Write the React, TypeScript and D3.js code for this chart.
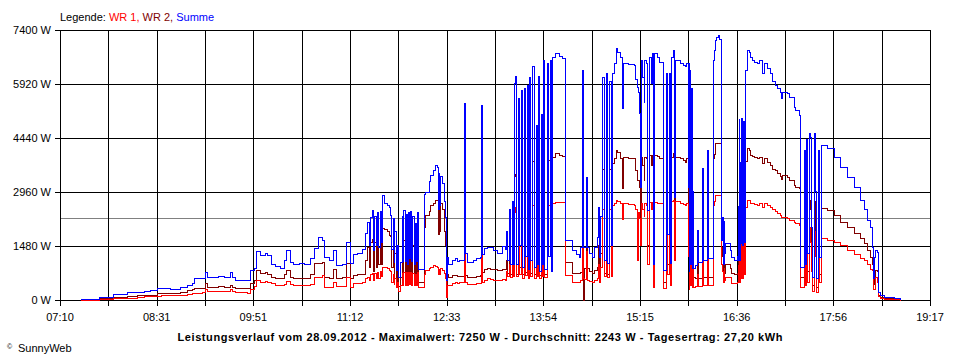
import React from "react";
import * as d3 from "d3";

// time of day in minutes (07:10 = 430)
const times = [
  447, 452, 463, 474, 486, 494, 500, 505, 511, 514,
  522, 530, 536, 540, 542, 549, 551, 553, 562, 567,
  572, 574, 576, 582, 586, 589, 592, 594, 597, 601,
  603, 606, 610, 614, 617, 619, 622, 625, 630, 634,
  639, 642, 646, 649, 651, 655, 658, 661, 666, 669,
  672, 675, 678, 682, 685, 686.5, 688, 689, 690.5, 691.5,
  692.5, 694, 695, 696, 697, 698, 699, 700.5, 703, 705,
  706, 707, 708, 708.7, 709.5, 710.5, 711.5, 712.5, 714, 715.6,
  716.3, 717, 718, 718.8, 719.8, 720.5, 721.5, 722.5, 723.5, 724.5,
  725.5, 726.5, 727.5, 728.3, 729.5, 733.7, 734.3, 735.2, 738, 739.3,
  742, 743.5, 745, 745.8, 746.3, 747, 747.7, 749, 750.5, 751.3,
  752, 752.7, 753.3, 754.6, 757.4, 760.2, 761.6, 763, 766, 767.5,
  768, 768.8, 770, 775.5, 778, 781, 781.9, 783, 784, 787,
  789.5, 792, 795.1, 797.9, 799.3, 802,
  802.8, 803.7, 805.4, 806.2, 807.9, 808.7, 809.5, 810.4, 811.2, 812.9,
  813.7, 815.4, 816.2, 817.9, 818.7, 820.4, 821.2, 822.1, 823, 824.6,
  825.8, 827.9, 828.7, 829.6, 830.4, 832.1, 832.9, 833.8, 834.6, 837.1,
  837.9, 839.2, 840, 841.3,
  843.8, 846.6, 849.4, 852, 852.2, 856.4, 857.8, 861, 863.4, 864.7,
  866.1, 866.8, 867.5, 869.5, 870.3, 871.7, 874.5, 875.9, 878.7, 879.5,
  880.3, 881.5,
  882.9, 884.2, 886, 887.5, 889, 890.2, 891.5, 892.6, 894.9, 895.4, 898.2,
  899.6, 900.4, 905, 909.3, 910.2, 912, 912.6, 913.7, 914.9, 915.4,
  916.5, 917.6, 918.2, 920, 920.9, 921.8, 923.8, 924.6, 925.5, 926.3,
  929, 930.2, 933.5, 936.6, 937.5, 938.5, 939.4, 940.5, 942.2, 943.3,
  944.3, 948, 950.5, 952.5, 953.3, 954.4, 955, 955.5, 956, 956.6,
  957.2, 957.8, 958.5, 959.2, 960.8, 962.2, 962.8, 966.4, 967, 970.6,
  971.2, 975.6, 976.2, 977.6, 978.4, 979.5, 980.5, 982.3, 983.1, 983.8,
  984.5, 985.2, 985.9, 990.1, 990.8, 992.9, 995.7, 996.2, 996.7, 997.1,
  997.5, 997.9, 998.5, 999.2, 999.9, 1000.6, 1001.3, 1002.6, 1004, 1005.4,
  1006.8, 1008, 1010, 1012.4, 1014, 1016.6, 1018, 1020.8, 1023.5, 1025,
  1027.7, 1029.1, 1031.9, 1032.5, 1033.3, 1037.5, 1038.9, 1043, 1044.4, 1047.2,
  1048.6, 1052, 1052.7, 1053.5, 1054.2, 1055.6, 1056.5, 1057.2, 1058.4, 1059.8,
  1060.5, 1061.2, 1062, 1063.1, 1064.2, 1065.9, 1070.9, 1076.5, 1082, 1087.7,
  1093.2, 1098.8, 1101.6, 1104.4, 1107.2, 1108.5, 1109.4, 1110, 1111.3, 1112.7,
  1113.5, 1115.5, 1118.3, 1122, 1126.7, 1132.2,
];

// WR 1 (W)
const wr1 = [
  5, 10, 20, 45, 65, 90, 100, 105, 110, 130,
  130, 140, 165, 180, 200, 210, 290, 255, 255, 250,
  290, 250, 220, 210, 200, 290, 385, 550, 500, 530,
  500, 455, 420, 410, 450, 520, 440, 410, 410, 410,
  450, 640, 640, 685, 365, 350, 500, 385, 385, 640,
  365, 456, 456, 480, 590, 640, 560, 700, 730, 560,
  750, 600, 780, 600, 800, 650, 910, 900, 880, 820,
  800, 500, 700, 430, 600, 350, 500, 260, 420, 750,
  420, 780, 420, 760, 400, 770, 440, 780, 420, 750,
  400, 700, 420, 780, 350, 360, 700, 820, 870, 910,
  960, 930, 910, 700, 880, 700, 870, 830, 750, 740,
  600, 90, 420, 410, 456, 480, 470, 500, 500, 520,
  2000, 500, 440, 440, 456, 470, 1800, 500, 560, 590,
  580, 560, 550, 560, 580, 560,
  800, 650, 1000, 620, 1100, 650, 2400, 2550, 650, 2250,
  700, 2350, 600, 2350, 680, 2400, 600, 2450, 650, 2600,
  600, 1950, 650, 2500, 600, 2100, 650, 2650, 620, 2620,
  2600, 2650, 2620, 2660,
  2690, 2690, 2680, 2690, 685, 685, 500, 500, 500, 550,
  2500, 600, 580, 1350, 560, 510, 500, 550, 600, 1000,
  500, 900,
  2500, 650, 2550, 620, 2500, 650, 2600, 2650, 2740, 2700, 2650,
  2230, 2650, 2640, 2600, 2500, 1100, 2400, 2250, 1500, 2650,
  2500, 2300, 2650, 2600, 1000, 2690, 2500, 2690, 365, 2690,
  2670, 2650, 320, 2600, 700, 2650, 420, 2700, 2740, 1100,
  2700, 2650, 2630, 2600, 2650, 1200, 2600, 300, 2500, 400,
  2300, 365, 1200, 365, 380, 700, 380, 1400, 400, 1600,
  420, 2600, 2700, 2870, 2880, 2870, 2870, 1000, 800, 500,
  900, 550, 640, 640, 455, 455, 500, 1000, 500, 2000,
  500, 1500, 600, 2000, 600, 1700, 700, 2550, 2740, 2740,
  2650, 2650, 2620, 2600, 2650, 2560, 2650, 2600, 2560, 2500,
  2450, 2375, 2330, 2280, 2280, 2240, 2200, 2150, 2100, 2060,
  365, 1500, 400, 1800, 500, 2000, 1600, 800, 250, 1900,
  1800, 1200, 230, 1700, 480, 1690, 1640, 1600, 1500, 1370,
  1250, 1150, 1100, 1000, 850, 820, 300, 300, 640, 500,
  100, 60, 40, 30, 20, 10,
];

// WR 2 (W)
const wr2 = [
  10, 25, 45, 80, 110, 130, 140, 150, 180, 200,
  200, 210, 275, 290, 320, 330, 455, 365, 380, 370,
  420, 370, 330, 320, 330, 455, 550, 820, 730, 760,
  720, 640, 600, 595, 700, 820, 640, 600, 600, 610,
  700, 1010, 1010, 1050, 640, 610, 840, 610, 620, 1005,
  590, 685, 700, 720, 1100, 1460, 900, 1600, 1680, 800,
  1600, 900, 1700, 1000, 1800, 1000, 1960, 1950, 1900, 1780,
  1750, 900, 1600, 640, 1300, 470, 1000, 380, 620, 1500,
  650, 1650, 650, 1550, 600, 1600, 700, 1650, 650, 1500,
  600, 1350, 640, 1600, 500, 490, 2000, 2330, 2450, 2600,
  2650, 2740, 2740, 1800, 2700, 1900, 2650, 2500, 2400, 1900,
  1500, 250, 700, 640, 680, 680, 660, 650, 660, 700,
  3300, 680, 640, 640, 660, 680, 3100, 760, 850, 870,
  860, 840, 820, 830, 860, 850,
  1100, 750, 1500, 700, 1600, 750, 3400, 3450, 720, 3300,
  900, 3350, 700, 3450, 760, 3500, 700, 3600, 750, 3800,
  700, 2850, 740, 3650, 680, 3000, 750, 3900, 700, 3880,
  3850, 3900, 3880, 3920,
  4020, 3980, 3950, 3975, 1050, 1050, 750, 730, 730, 780,
  3700, 0, 870, 2000, 870, 800, 750, 820, 900, 1500,
  750, 1300,
  3600, 750, 3700, 700, 3600, 900, 3750, 3900, 4110, 4050, 3880,
  3060, 3930, 3900, 3880, 3560, 3300, 3300, 3110, 1900, 3930,
  3700, 3300, 3930, 3900, 1500, 3975, 3700, 3975, 600, 3975,
  3950, 3880, 500, 3700, 1000, 3750, 600, 3930, 4020, 1500,
  3930, 3880, 3840, 3790, 3880, 1800, 3880, 500, 3700, 600,
  3400, 640, 1800, 640, 600, 1100, 600, 2100, 640, 2400,
  640, 3900, 4000, 4290, 4300, 4290, 4290, 1200, 1450, 700,
  1400, 750, 1000, 870, 730, 700, 730, 1600, 730, 3000,
  730, 2200, 900, 3000, 900, 2500, 1000, 3800, 4160, 4110,
  3975, 3950, 3930, 3880, 3930, 3750, 3880, 3790, 3700, 3600,
  3560, 3470, 3400, 3330, 3420, 3380, 3290, 3150, 3105, 3060,
  640, 2500, 640, 2700, 800, 2740, 2500, 1200, 400, 2700,
  2650, 1800, 360, 2600, 710, 2510, 2470, 2330, 2150, 2010,
  1830, 1690, 1550, 1370, 1190, 1000, 450, 600, 820, 800,
  150, 90, 50, 50, 25, 20,
];

// Summe (W)
const summe = [
  15, 40, 90, 165, 230, 230, 250, 270, 340, 330,
  310, 360, 410, 475, 595, 600, 775, 640, 650, 630,
  775, 640, 550, 560, 540, 820, 875, 1350, 1230, 1280,
  1230, 990, 930, 880, 1100, 1370, 1050, 990, 1010, 1000,
  1150, 1420, 1720, 1645, 1190, 1100, 1370, 960, 980, 1600,
  1005, 1250, 1300, 1400, 1830, 2150, 1500, 2280, 2470, 1370,
  2300, 1500, 2400, 1450, 2450, 1600, 2880, 2650, 2600, 2560,
  2330, 1400, 2250, 1050, 1900, 820, 1500, 640, 1040, 2300,
  1070, 2470, 1070, 2350, 1000, 2400, 1140, 2450, 1070, 2300,
  1000, 2100, 1060, 2400, 850, 850, 2900, 2970, 3250, 3430,
  3550, 3700, 3650, 2500, 3500, 2600, 3400, 3200, 3100, 2700,
  2280, 550, 1190, 1000, 1100, 1150, 1080, 1100, 1100, 1200,
  5400, 1300, 1050, 1100, 1150, 1180, 5350, 1250, 1415, 1450,
  1460, 1380, 1280, 1300, 1480, 1400,
  1900, 1100, 2500, 1000, 2700, 1000, 5950, 6150, 1000, 5550,
  1500, 5750, 900, 5800, 1200, 5900, 850, 6100, 1100, 6400,
  900, 4800, 1000, 6150, 800, 5100, 1000, 6580, 850, 6500,
  1200, 6580, 800, 6670,
  6760, 6700, 6623, 6670, 1640, 1640, 1370, 1250, 1190, 1461,
  6300, 1461, 1461, 3380, 1461, 1300, 1190, 1461, 1740, 2560,
  1190, 2300,
  6120, 1100, 6212, 1004, 6000, 1500, 6212, 6500, 6900, 6800, 6670,
  5250, 6490, 6470, 6440, 6070, 5850, 5700, 5120, 3100, 6580,
  6120, 5435, 6580, 6490, 2470, 6670, 5938, 6760, 1000, 6760,
  6670, 6530, 820, 6210, 1800, 6210, 1004, 6670, 6850, 2830,
  6580, 6490, 6440, 6400, 6490, 3100, 6490, 800, 6300, 1000,
  5800, 870, 3000, 870, 960, 1918, 1050, 3610, 1095, 4110,
  1150, 6580, 6850, 7125, 7220, 7250, 7160, 1640, 2280, 1000,
  2200, 1300, 1550, 1370, 1190, 1100, 1200, 2600, 1100, 5000,
  1100, 3800, 1550, 5000, 1500, 4900, 1600, 6300, 6850, 6810,
  6670, 6580, 6530, 6490, 6580, 6210, 6490, 6350, 6210, 6000,
  5900, 5800, 5710, 5530, 5710, 5660, 5570, 5300, 5210, 5070,
  915, 4110, 1000, 4400, 1300, 4570, 4480, 2000, 640, 4570,
  4390, 3000, 590, 4110, 1190, 4250, 4160, 3930, 3655, 3380,
  3105, 2740, 2500, 2190, 2010, 1461, 590, 1190, 1370, 1320,
  230, 140, 90, 90, 45, 40,
];

const yTicks = [0, 1480, 2960, 4440, 5920, 7400];
const xTickLabels = ["07:10", "08:31", "09:51", "11:12", "12:33", "13:54", "15:15", "16:36", "17:56", "19:17"];
const dayStart = 430; // 07:10
const dayEnd = 1157; // 19:17
const yMax = 7400;
const average = 2243;
const titleText = "Leistungsverlauf vom 28.09.2012 - Maximalwert: 7250 W - Durchschnitt: 2243 W - Tagesertrag: 27,20 kWh";

const FONT = "'Liberation Sans', Arial, sans-serif";

export default function App() {
  const W = 960;
  const H = 360;
  const left = 60;
  const right = 930;
  const top = 30;
  const bottom = 300;

  const x = d3.scaleLinear().domain([dayStart, dayEnd]).range([left, right]);
  const y = d3.scaleLinear().domain([0, yMax]).range([bottom, top]);

  const nMinor = (xTickLabels.length - 1) * 2;
  const gridTimes = d3.range(nMinor + 1).map((i) => dayStart + (i * (dayEnd - dayStart)) / nMinor);
  const labelTimes = gridTimes.filter((_, i) => i % 2 === 0);

  const px = (v: number) => Math.round(v) + 0.5;

  const mk = (vals: number[]) =>
    d3
      .line<number>()
      .x((_, i) => px(x(times[i])))
      .y((v) => px(y(v)))
      .curve(d3.curveStepAfter)(vals) || "";

  return (
    <svg
      width={W}
      height={H}
      style={{ position: "absolute", left: 0, top: 0, background: "#fff" }}
      fontFamily={FONT}
    >
      <rect x={0} y={0} width={W} height={H} fill="#fff" />

      {/* average line */}
      <line x1={left} x2={right} y1={px(y(average))} y2={px(y(average))} stroke="#808080" strokeWidth={1} shapeRendering="crispEdges" />

      {/* horizontal grid + y ticks */}
      {yTicks.map((t) => (
        <line key={"h" + t} x1={left - 5} x2={px(x(dayEnd))} y1={px(y(t))} y2={px(y(t))} stroke="#000" strokeWidth={1} shapeRendering="crispEdges" />
      ))}
      {/* vertical grid + x ticks */}
      {gridTimes.map((t, i) => (
        <line key={"v" + i} x1={px(x(t))} x2={px(x(t))} y1={px(y(yMax))} y2={px(y(0)) + 5} stroke="#000" strokeWidth={1} shapeRendering="crispEdges" />
      ))}

      {/* y labels */}
      {yTicks.map((t) => (
        <text key={"yl" + t} x={51} y={Math.round(y(t)) + 4} fontSize={11} textAnchor="end" fill="#000">
          {t + " W"}
        </text>
      ))}
      {/* x labels */}
      {labelTimes.map((t, i) => (
        <text key={"xl" + i} x={x(t)} y={321} fontSize={11} textAnchor="middle" fill="#000">
          {xTickLabels[i]}
        </text>
      ))}

      {/* series */}
      <path d={mk(wr2)} fill="none" stroke="#800000" strokeWidth={1} shapeRendering="crispEdges" />
      <path d={mk(wr1)} fill="none" stroke="#ff0000" strokeWidth={1} shapeRendering="crispEdges" />
      <path d={mk(summe)} fill="none" stroke="#0000ff" strokeWidth={1} shapeRendering="crispEdges" />

      {/* legend */}
      <text x={60} y={20.5} fontSize={11} fill="#000">
        {"Legende: "}
        <tspan fill="#ff0000">WR 1,</tspan>
        {" "}
        <tspan fill="#800000">WR 2,</tspan>
        {" "}
        <tspan fill="#0000ff">Summe</tspan>
      </text>

      {/* title */}
      <text x={480} y={341} fontSize={11} fontWeight="bold" textAnchor="middle" fill="#000" textLength={605} lengthAdjust="spacing">
        {titleText}
      </text>

      {/* copyright */}
      <text x={7} y={349} fontSize={7} fill="#000">©</text>
      <text x={18} y={352} fontSize={11} fill="#000">SunnyWeb</text>
    </svg>
  );
}
